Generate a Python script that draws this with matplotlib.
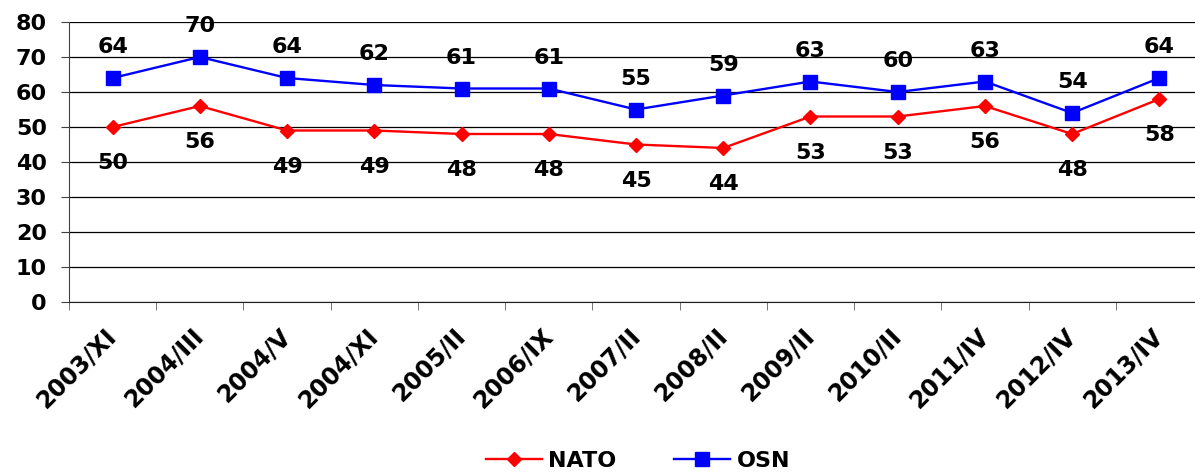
import matplotlib.pyplot as plt
import matplotlib.transforms as mtransforms
from matplotlib.lines import Line2D

periods = ["2003/XI", "2004/III", "2004/V", "2004/XI", "2005/II", "2006/IX", "2007/II",
           "2008/II", "2009/II", "2010/II", "2011/IV", "2012/IV", "2013/IV"]
nato = [50, 56, 49, 49, 48, 48, 45, 44, 53, 53, 56, 48, 58]
osn = [64, 70, 64, 62, 61, 61, 55, 59, 63, 60, 63, 54, 64]

fig = plt.figure(figsize=(11.95, 4.74), dpi=100)
ax = fig.add_axes([69 / 1195, 1 - 302 / 474, 1134 / 1195, 280 / 474])

x = list(range(len(periods)))
ax.plot(x, nato, color="#ff0000", marker="D", markersize=6.8, linewidth=1.7, label="NATO")
ax.plot(x, osn, color="#0000ff", marker="s", markersize=10.5, linewidth=1.7, label="OSN")

for i, v in enumerate(osn):
    ax.annotate(str(v), (i, v), xytext=(0, 15), textcoords="offset points",
                ha="center", va="bottom", fontsize=16, fontweight="bold")
for i, v in enumerate(nato):
    ax.annotate(str(v), (i, v), xytext=(0, -19), textcoords="offset points",
                ha="center", va="top", fontsize=16, fontweight="bold")

ax.set_xlim(-0.5, len(periods) - 0.5)
ax.set_ylim(0, 80)
ax.set_yticks(range(0, 81, 10))
ax.yaxis.grid(True, color="black", linewidth=0.9)
ax.set_axisbelow(True)

# labels at category centres, tick marks at category boundaries
ax.set_xticks(x)
ax.set_xticks([i - 0.5 for i in range(len(periods) + 1)], minor=True)
ax.set_xticklabels(periods, rotation=45, ha="right", va="center", rotation_mode="anchor",
                   fontsize=17, fontweight="bold")
shift = mtransforms.ScaledTranslation(7 / 100, 0, fig.dpi_scale_trans)
for lbl in ax.get_xticklabels():
    lbl.set_transform(lbl.get_transform() + shift)
for lbl in ax.get_yticklabels():
    lbl.set_fontweight("bold")
    lbl.set_fontsize(16)
ax.tick_params(axis="x", which="major", length=0, pad=22)
ax.tick_params(axis="x", which="minor", length=6, color="#606060")
ax.tick_params(axis="y", length=6, color="#404040", pad=10)
for s in ["top", "right"]:
    ax.spines[s].set_visible(False)
ax.spines["left"].set_color("#404040")
ax.spines["bottom"].set_color("#202020")

fig.legend(handles=[Line2D([], [], color="#ff0000", marker="D", markersize=6.8, linewidth=1.7, label="NATO"),
                    Line2D([], [], color="#0000ff", marker="s", markersize=10.5, linewidth=1.7, label="OSN")],
           loc="center", bbox_to_anchor=(0.534, 0.028), ncol=2, frameon=False,
           prop={"weight": "bold", "size": 16}, columnspacing=2.6, handlelength=2.5,
           handletextpad=0.3)

fig.savefig("out.png", dpi=100)
